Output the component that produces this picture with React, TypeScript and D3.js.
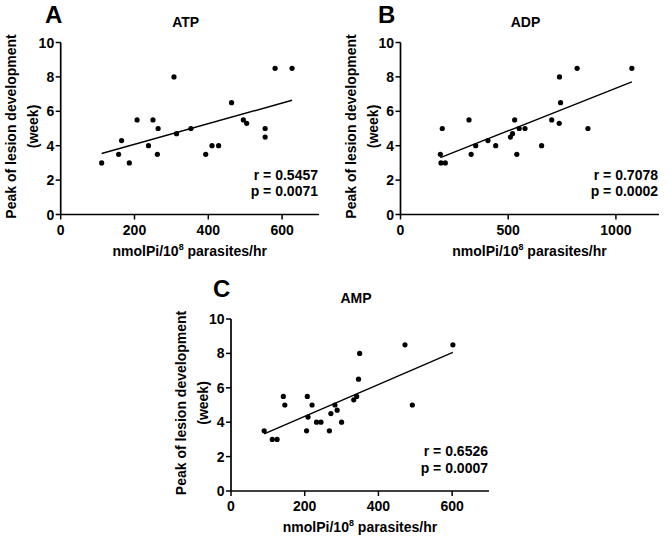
import React from "react";
import * as d3 from "d3";

// ---- Data ----
const atpX = [111, 157, 165, 186, 207, 238, 250, 264, 262, 307, 314, 353, 393, 410, 428, 463, 495, 504, 554, 554, 581, 627];
const atpY = [3.0, 3.5, 4.3, 3.0, 5.5, 4.0, 5.5, 5.0, 3.5, 8.0, 4.7, 5.0, 3.5, 4.0, 4.0, 6.5, 5.5, 5.3, 5.0, 4.5, 8.5, 8.5];

const adpX = [185, 188, 194, 208, 318, 328, 349, 406, 442, 510, 520, 530, 540, 551, 578, 655, 702, 738, 743, 737, 820, 870, 1074];
const adpY = [3.5, 3.0, 5.0, 3.0, 5.5, 3.5, 4.0, 4.3, 4.0, 4.5, 4.7, 5.5, 3.5, 5.0, 5.0, 4.0, 5.5, 8.0, 6.5, 5.3, 8.5, 5.0, 8.5];

const ampX = [90, 112, 125, 142, 146, 207, 205, 209, 220, 232, 244, 267, 271, 282, 288, 300, 333, 341, 346, 349, 472, 492, 602];
const ampY = [3.5, 3.0, 3.0, 5.5, 5.0, 5.5, 3.5, 4.3, 5.0, 4.0, 4.0, 3.5, 4.5, 5.0, 4.7, 4.0, 5.3, 5.5, 6.5, 8.0, 8.5, 5.0, 8.5];

const panelLetters = ["A", "B", "C"];
const panelTitles = ["ATP", "ADP", "AMP"];
const xMaxes = [700, 1200, 700];
const xTickValues = [[0, 200, 400, 600], [0, 500, 1000], [0, 200, 400, 600]];
const yTickValues = [0, 2, 4, 6, 8, 10];
const rTexts = ["r = 0.5457", "r = 0.7078", "r = 0.6526"];
const pTexts = ["p = 0.0071", "p = 0.0002", "p = 0.0007"];

const xs = [atpX, adpX, ampX];
const ys = [atpY, adpY, ampY];

// layout
const layouts = [
  { left: 60.7, top: 42.5, width: 258.3, height: 172, letterX: 45, letterY: 22.5 },
  { left: 400.5, top: 42.5, width: 258.5, height: 172, letterX: 378, letterY: 22.5 },
  { left: 231, top: 319, width: 258, height: 172, letterX: 213, letterY: 296.5 },
];

const FONT = "'Liberation Sans', Arial, Helvetica, sans-serif";

function regression(x: number[], y: number[]) {
  const mx = d3.mean(x)!;
  const my = d3.mean(y)!;
  let sxy = 0, sxx = 0;
  for (let i = 0; i < x.length; i++) {
    sxy += (x[i] - mx) * (y[i] - my);
    sxx += (x[i] - mx) * (x[i] - mx);
  }
  const b = sxy / sxx;
  const a = my - b * mx;
  return { a, b };
}

function Panel({ i }: { i: number }) {
  const L = layouts[i];
  const x = d3.scaleLinear().domain([0, xMaxes[i]]).range([L.left, L.left + L.width]);
  const y = d3.scaleLinear().domain([0, 10]).range([L.top + L.height, L.top]);
  const xd = xs[i];
  const yd = ys[i];
  const { a, b } = regression(xd, yd);
  const x0 = d3.min(xd)!;
  const x1 = d3.max(xd)!;
  const bottom = L.top + L.height;
  const cx = L.left + 125;
  return (
    <g>
      <text x={L.letterX} y={L.letterY} fontSize={24} fontWeight="bold" fontFamily={FONT}>
        {panelLetters[i]}
      </text>
      <text x={cx} y={L.top - 16} fontSize={14} fontWeight="bold" fontFamily={FONT} textAnchor="middle">
        {panelTitles[i]}
      </text>
      {/* y axis */}
      <line x1={L.left} x2={L.left} y1={y(0)} y2={y(10)} stroke="#000" strokeWidth={1.7} />
      {yTickValues.map((t) => (
        <g key={"y" + t}>
          <line x1={L.left - 5} x2={L.left} y1={y(t)} y2={y(t)} stroke="#000" strokeWidth={1.5} />
          <text x={L.left - 6.5} y={y(t)} dy="0.36em" fontSize={14} fontWeight="bold" fontFamily={FONT} textAnchor="end">
            {t}
          </text>
        </g>
      ))}
      {/* x axis */}
      <line x1={x(0)} x2={x(xMaxes[i])} y1={bottom} y2={bottom} stroke="#000" strokeWidth={1.7} />
      {xTickValues[i].map((t) => (
        <g key={"x" + t}>
          <line x1={x(t)} x2={x(t)} y1={bottom} y2={bottom + 5} stroke="#000" strokeWidth={1.5} />
          <text x={x(t)} y={bottom + 20} fontSize={14} fontWeight="bold" fontFamily={FONT} textAnchor="middle">
            {t}
          </text>
        </g>
      ))}
      {/* axis titles */}
      <text
        transform={`translate(${L.left - 45},${L.top + L.height / 2 - 2}) rotate(-90)`}
        fontSize={14}
        fontWeight="bold"
        fontFamily={FONT}
        textAnchor="middle"
      >
        Peak of lesion development
      </text>
      <text
        transform={`translate(${L.left - 23},${L.top + L.height / 2 - 2}) rotate(-90)`}
        fontSize={14}
        fontWeight="bold"
        fontFamily={FONT}
        textAnchor="middle"
      >
        (week)
      </text>
      <text x={L.left + 129} y={bottom + 41} fontSize={14} fontWeight="bold" fontFamily={FONT} textAnchor="middle">
        nmolPi/10
        <tspan fontSize={9} dy={-6}>8</tspan>
        <tspan dy={6}> parasites/hr</tspan>
      </text>
      {/* regression line */}
      <line x1={x(x0)} x2={x(x1)} y1={y(a + b * x0)} y2={y(a + b * x1)} stroke="#000" strokeWidth={1.4} />
      {/* points */}
      {xd.map((v, k) => (
        <circle key={k} cx={x(v)} cy={y(yd[k])} r={2.6} fill="#000" />
      ))}
      {/* stats */}
      <text x={L.left + L.width - 1} y={L.top + 137} fontSize={14} fontWeight="bold" fontFamily={FONT} textAnchor="end">
        {rTexts[i]}
      </text>
      <text x={L.left + L.width - 1} y={L.top + 153.5} fontSize={14} fontWeight="bold" fontFamily={FONT} textAnchor="end">
        {pTexts[i]}
      </text>
    </g>
  );
}

export default function App() {
  return (
    <svg
      width={670}
      height={541}
      style={{ position: "absolute", left: 0, top: 0, background: "#fff" }}
    >
      <rect x={0} y={0} width={670} height={541} fill="#fff" />
      {[0, 1, 2].map((i) => (
        <Panel key={i} i={i} />
      ))}
    </svg>
  );
}
